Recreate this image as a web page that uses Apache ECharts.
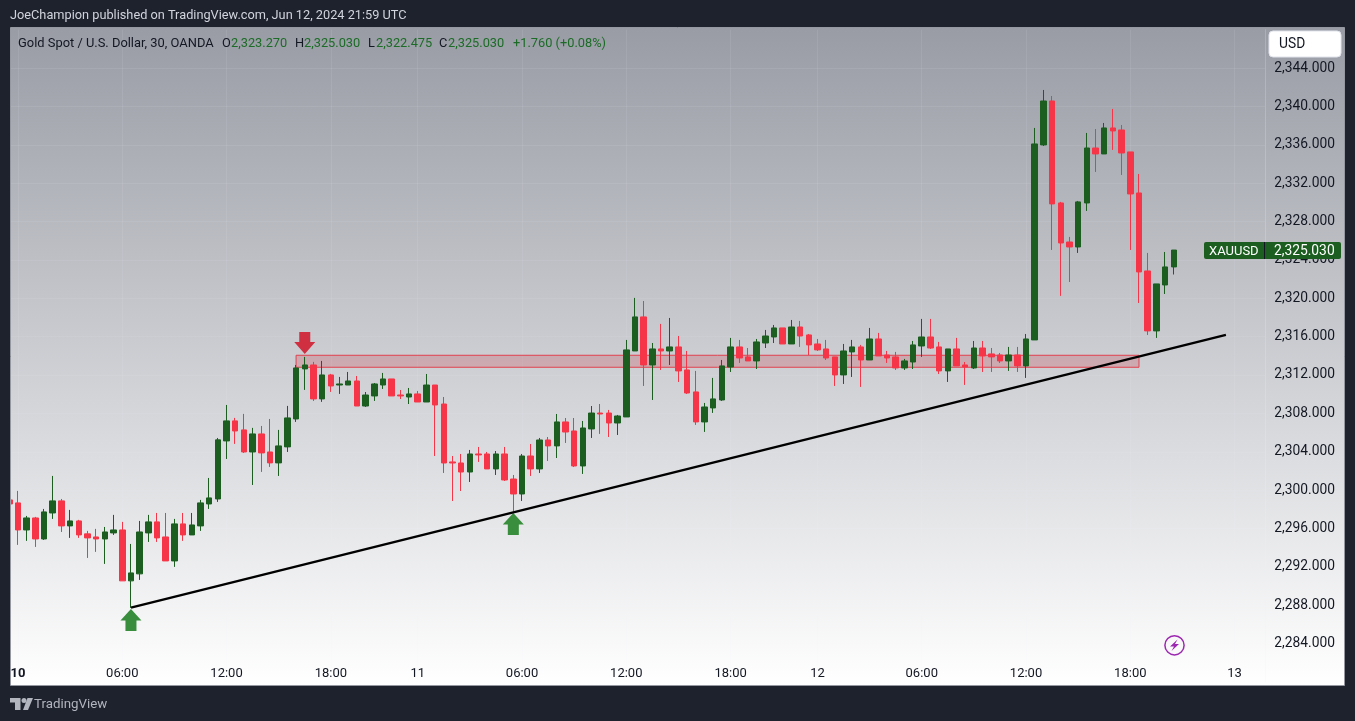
<!DOCTYPE html>
<html>
<head>
<meta charset="utf-8">
<title>XAUUSD</title>
<style>
  html, body { margin: 0; padding: 0; background: #1e222d; }
  #chart { width: 1355px; height: 721px; }
</style>
<script src="https://cdn.jsdelivr.net/npm/echarts@6/dist/echarts.min.js"></script>
</head>
<body>
<div id="chart"></div>
<script>
// candle values, one row = 10 bars
const open = [
  2298.98, 2298.67, 2295.85, 2297.10, 2294.91, 2297.62, 2298.88, 2296.27, 2296.79, 2295.44,
  2295.12, 2294.91, 2295.54, 2295.85, 2290.54, 2291.27, 2295.54, 2296.69, 2295.12, 2292.62,
  2296.48, 2295.33, 2296.27, 2298.56, 2299.08, 2305.13, 2307.22, 2306.28, 2303.98, 2305.86,
  2303.98, 2302.84, 2304.51, 2307.42, 2312.64, 2313.05, 2309.51, 2312.01, 2310.96, 2310.96,
  2311.38, 2308.77, 2309.82, 2310.96, 2311.59, 2309.92, 2309.71, 2310.03, 2309.19, 2310.96,
  2308.98, 2302.94, 2302.83, 2301.89, 2303.77, 2303.77, 2302.21, 2303.77, 2301.16, 2299.60,
  2303.56, 2302.21, 2305.23, 2304.61, 2307.11, 2306.17, 2302.52, 2306.38, 2308.04, 2308.04,
  2307.00, 2307.63, 2314.51, 2318.06, 2313.05, 2314.72, 2314.51, 2314.93, 2312.53, 2310.24,
  2307.11, 2308.57, 2309.40, 2312.84, 2314.93, 2313.89, 2313.47, 2315.34, 2315.97, 2316.91,
  2315.24, 2317.01, 2316.18, 2315.24, 2314.72, 2313.89, 2312.01, 2314.41, 2314.93, 2313.57,
  2315.76, 2314.09, 2313.89, 2312.74, 2313.36, 2315.03, 2315.97, 2314.93, 2312.43, 2314.72,
  2313.05, 2312.74, 2314.82, 2314.20, 2314.09, 2313.47, 2314.09, 2312.95, 2315.66, 2335.99,
  2340.57, 2329.94, 2325.87, 2325.35, 2329.94, 2335.67, 2335.05, 2337.76, 2337.55, 2335.26,
  2330.98, 2322.85, 2316.60, 2321.39, 2323.27
];
const close = [
  2298.56, 2295.85, 2297.10, 2294.91, 2297.73, 2298.88, 2296.27, 2296.79, 2295.33, 2295.02,
  2294.91, 2295.64, 2295.85, 2290.54, 2291.37, 2295.64, 2296.69, 2295.02, 2292.62, 2296.48,
  2295.33, 2296.37, 2298.67, 2299.19, 2305.24, 2307.22, 2306.17, 2303.98, 2305.86, 2303.88,
  2302.84, 2304.61, 2307.53, 2312.74, 2313.05, 2309.51, 2312.01, 2310.86, 2311.07, 2311.38,
  2308.77, 2309.92, 2311.07, 2311.59, 2309.82, 2309.82, 2310.03, 2309.19, 2310.96, 2308.88,
  2302.83, 2302.83, 2301.89, 2303.77, 2303.67, 2302.21, 2303.77, 2301.06, 2299.60, 2303.56,
  2302.21, 2305.23, 2304.61, 2307.11, 2306.06, 2302.52, 2306.48, 2308.04, 2307.94, 2307.00,
  2307.73, 2314.62, 2318.06, 2313.05, 2314.72, 2314.51, 2314.93, 2312.43, 2310.13, 2307.11,
  2308.67, 2309.51, 2312.95, 2314.93, 2313.78, 2313.47, 2315.45, 2316.07, 2316.91, 2315.24,
  2317.01, 2316.07, 2315.14, 2314.62, 2313.78, 2312.01, 2314.51, 2314.93, 2313.57, 2315.76,
  2313.99, 2313.78, 2312.74, 2313.47, 2315.14, 2315.97, 2314.82, 2312.43, 2314.72, 2312.95,
  2312.84, 2314.82, 2313.99, 2313.89, 2313.47, 2314.09, 2312.95, 2315.76, 2336.09, 2340.57,
  2329.84, 2325.77, 2325.35, 2330.05, 2335.67, 2335.05, 2337.76, 2337.45, 2335.15, 2330.88,
  2322.75, 2316.60, 2321.50, 2323.27, 2325.03
];
const low = [
  2298.37, 2294.29, 2294.71, 2294.08, 2294.81, 2297.00, 2295.64, 2295.02, 2295.02, 2292.93,
  2293.56, 2292.31, 2295.33, 2290.54, 2287.72, 2290.64, 2294.60, 2294.60, 2292.62, 2292.00,
  2294.71, 2295.33, 2295.75, 2298.04, 2298.77, 2303.25, 2304.82, 2303.88, 2300.54, 2301.90,
  2302.42, 2301.48, 2303.98, 2307.11, 2310.45, 2309.30, 2309.20, 2310.24, 2310.03, 2310.96,
  2308.77, 2308.67, 2309.30, 2310.55, 2309.82, 2309.50, 2308.98, 2309.19, 2309.19, 2303.56,
  2301.79, 2298.87, 2299.91, 2300.85, 2302.94, 2302.21, 2301.58, 2300.96, 2297.76, 2298.87,
  2301.48, 2301.79, 2303.04, 2303.35, 2304.92, 2302.42, 2301.69, 2305.44, 2305.86, 2305.54,
  2305.75, 2307.63, 2314.51, 2310.86, 2309.40, 2312.53, 2313.05, 2311.28, 2310.03, 2306.80,
  2306.07, 2308.05, 2309.30, 2312.32, 2313.26, 2313.47, 2312.63, 2314.82, 2315.34, 2315.24,
  2315.24, 2314.93, 2314.09, 2314.51, 2313.57, 2310.86, 2311.07, 2311.80, 2310.76, 2313.57,
  2313.99, 2313.26, 2312.53, 2312.53, 2312.63, 2313.89, 2314.72, 2312.11, 2311.28, 2312.95,
  2310.97, 2312.63, 2312.32, 2312.32, 2313.26, 2312.43, 2312.32, 2311.70, 2315.66, 2335.88,
  2325.04, 2320.25, 2321.70, 2324.73, 2329.11, 2333.17, 2335.05, 2335.47, 2332.86, 2325.04,
  2319.51, 2316.18, 2315.87, 2320.45, 2322.48
];
const high = [
  2299.37, 2299.92, 2297.31, 2297.21, 2298.04, 2301.48, 2299.08, 2297.94, 2296.90, 2295.75,
  2295.96, 2296.16, 2297.42, 2296.69, 2294.39, 2296.79, 2297.42, 2297.62, 2297.62, 2297.00,
  2297.62, 2297.62, 2298.98, 2301.27, 2305.44, 2308.88, 2307.53, 2307.95, 2306.49, 2306.69,
  2307.42, 2306.28, 2308.78, 2313.05, 2313.89, 2313.37, 2313.47, 2312.12, 2311.80, 2312.32,
  2311.90, 2310.23, 2311.17, 2312.22, 2311.59, 2310.44, 2310.65, 2310.34, 2312.11, 2310.96,
  2309.71, 2303.56, 2303.77, 2304.19, 2304.50, 2303.98, 2304.08, 2304.50, 2301.58, 2303.77,
  2304.81, 2305.44, 2305.54, 2307.94, 2307.52, 2307.52, 2307.21, 2308.77, 2308.98, 2308.36,
  2307.84, 2315.66, 2320.04, 2319.72, 2315.34, 2317.33, 2317.95, 2316.07, 2314.51, 2312.43,
  2309.09, 2311.70, 2313.57, 2315.87, 2315.66, 2314.82, 2315.76, 2316.70, 2317.22, 2316.91,
  2317.74, 2317.64, 2316.28, 2315.76, 2315.66, 2313.89, 2315.24, 2315.66, 2315.14, 2316.91,
  2316.39, 2314.51, 2314.41, 2313.68, 2315.55, 2317.85, 2317.85, 2315.45, 2314.72, 2315.87,
  2313.36, 2315.55, 2315.55, 2314.82, 2314.30, 2314.93, 2314.93, 2316.28, 2337.76, 2341.72,
  2341.09, 2330.05, 2326.40, 2330.15, 2337.24, 2337.65, 2338.28, 2339.74, 2338.07, 2335.26,
  2332.96, 2324.73, 2321.50, 2324.83, 2325.03
];

// time axis
const barCount = 145;
const tickBars = [1, 13, 25, 37, 47, 59, 71, 83, 93, 105, 117, 129, 141];
const tickLabels = ['10', '06:00', '12:00', '18:00', '11', '06:00', '12:00', '18:00', '12', '06:00', '12:00', '18:00', '13'];

// drawings on the chart
const trendBars = [14, 140];
const trendValues = [2287.75, 2316.18];
const zoneBars = [33, 130];
const zoneValues = [2314.06, 2312.81];
const arrowBars = [34, 14, 58];
const arrowValues = [2315.35, 2286.46, 2296.47];

const headerText = 'JoeChampion published on TradingView.com, Jun 12, 2024 21:59 UTC';
const symbolText = 'Gold Spot / U.S. Dollar, 30, OANDA';
const ohlcLetters = ['O', 'H', 'L', 'C'];
const ohlcValues = ['2,323.270', '2,325.030', '2,322.475', '2,325.030'];
const changeText = '+1.760 (+0.08%)';
const lastPriceText = '2,325.030';

const GREEN = '#1b5e20';
const RED = '#f63648';
const FONT = 'Roboto, "Noto Sans", sans-serif';
const GRID_LINE = 'rgba(240,243,250,0.09)';

const categories = new Array(barCount).fill('');
tickBars.forEach((b, i) => { categories[b] = tickLabels[i]; });
const isTick = (idx) => tickBars.includes(idx);

const candles = open.map((o, i) => [o, close[i], low[i], high[i]]);

const ARROW_UP = 'path://M10.5 0L21 11.5L16 11.5L16 22L5 22L5 11.5L0 11.5Z';
const ARROW_DOWN = 'path://M5 0L16 0L16 10L21 10L10.5 22L0 10L5 10Z';

function txt(x, y, text, fill, size, extra) {
  return {
    type: 'text', x: x, y: y, z: 60, silent: true,
    style: Object.assign({ text: text, fill: fill, font: (size || 12) + 'px ' + FONT, textVerticalAlign: 'middle' }, extra || {})
  };
}

const legendX = { O: [222, 231], H: [295, 304], L: [368, 376], C: [439, 448] };
const legendTexts = [];
ohlcLetters.forEach((letter, i) => {
  legendTexts.push(txt(legendX[letter][0], 44, letter, '#131722', 12.8));
  legendTexts.push(txt(legendX[letter][1], 44, ohlcValues[i], '#1c6b26', 12.8));
});

const chart = echarts.init(document.getElementById('chart'));
chart.setOption({
  animation: false,
  backgroundColor: '#1e222d',
  grid: { left: 4.955, right: 90, top: 29.73, height: 652.24 },
  xAxis: {
    type: 'category',
    data: categories,
    offset: -17,
    axisLine: { show: false },
    axisTick: { show: false },
    axisLabel: {
      interval: (idx) => isTick(idx),
      margin: 2,
      color: '#131722',
      fontFamily: FONT,
      fontSize: 13,
      hideOverlap: false,
      formatter: (v, idx) => (idx === 1 ? '{day|' + v + '}' : v),
      rich: { day: { fontWeight: 'bold', fontSize: 13, color: '#131722', fontFamily: FONT } }
    },
    splitLine: {
      show: true,
      alignWithLabel: true,
      interval: (idx) => isTick(idx),
      lineStyle: { color: GRID_LINE, width: 1 }
    }
  },
  yAxis: {
    type: 'value',
    position: 'right',
    min: 2280,
    max: 2348,
    interval: 4,
    axisLine: { show: true, lineStyle: { color: 'rgba(240,243,250,0.22)' } },
    axisTick: { show: false },
    axisLabel: {
      margin: 70,
      align: 'right',
      color: '#131722',
      fontFamily: FONT,
      fontSize: 13.8,
      padding: [0, 0, 3, 0],
      formatter: (v) => (v === 2280 || v === 2348) ? '' : v.toLocaleString('en-US', { minimumFractionDigits: 3 })
    },
    splitLine: {
      show: true,
      showMinLine: false,
      showMaxLine: false,
      lineStyle: { color: GRID_LINE, width: 1 }
    }
  },
  series: [
    {
      type: 'candlestick',
      data: candles,
      barWidth: 6,
      silent: true,
      z: 3,
      itemStyle: { color: GREEN, color0: RED, borderColor: GREEN, borderColor0: RED, borderWidth: 1 },
      markArea: {
        silent: true,
        z: 1,
        itemStyle: { color: 'rgba(200,40,55,0.22)', borderColor: '#e2404e', borderWidth: 1 },
        data: [[
          { coord: [zoneBars[0], zoneValues[0]] },
          { coord: [zoneBars[1], zoneValues[1]] }
        ]]
      },
      markPoint: {
        silent: true,
        label: { show: false },
        data: [
          { coord: [arrowBars[0], arrowValues[0]], symbol: ARROW_DOWN, symbolSize: [21, 22], itemStyle: { color: '#cf2f40' } },
          { coord: [arrowBars[1], arrowValues[1]], symbol: ARROW_UP, symbolSize: [21, 22], itemStyle: { color: '#388e3c' } },
          { coord: [arrowBars[2], arrowValues[2]], symbol: ARROW_UP, symbolSize: [21, 22], itemStyle: { color: '#388e3c' } }
        ]
      }
    },
    {
      type: 'line',
      data: trendBars.map((b, i) => [b, trendValues[i]]),
      symbol: 'none',
      silent: true,
      z: 6,
      lineStyle: { color: '#000000', width: 2.4 }
    }
  ],
  graphic: [
    // panel with the grey to white wash
    {
      type: 'rect', z: -10, silent: true,
      shape: { x: 10.5, y: 27.5, width: 1334, height: 658 },
      style: {
        fill: new echarts.graphic.LinearGradient(0, 0, 0, 1, [
          { offset: 0, color: 'rgb(153,156,165)' },
          { offset: 1, color: '#ffffff' }
        ])
      }
    },
    // covers the cut off first bar
    { type: 'rect', z: 50, silent: true, shape: { x: 0, y: 27, width: 10.5, height: 660 }, style: { fill: '#1e222d' } },
    { type: 'rect', z: 51, silent: true, shape: { x: 10.5, y: 27.5, width: 1334, height: 658 }, style: { fill: 'none', stroke: '#9598a1', lineWidth: 1 } },

    txt(10, 15.5, headerText, '#d1d4dc', 12.75),
    txt(18, 43.5, symbolText, '#131722', 12.9)
  ].concat(legendTexts).concat([
    txt(513, 43.5, changeText, '#1c6b26', 12.8),

    // currency button
    { type: 'rect', z: 55, silent: true, shape: { x: 1269, y: 31, width: 72, height: 26, r: 4 }, style: { fill: '#ffffff', stroke: '#e0e3eb', lineWidth: 1 } },
    txt(1279, 44.5, 'USD', '#131722', 13.8),

    // last price tag
    { type: 'rect', z: 55, silent: true, shape: { x: 1204, y: 242, width: 137, height: 17, r: 2 }, style: { fill: GREEN } },
    { type: 'rect', z: 56, silent: true, shape: { x: 1264, y: 242, width: 1, height: 17 }, style: { fill: '#131722' } },
    txt(1209, 251.5, 'XAUUSD', '#ffffff', 13),
    txt(1274, 251.5, lastPriceText, '#ffffff', 13.8),

    // lightning badge
    { type: 'circle', z: 55, silent: true, shape: { cx: 1174.5, cy: 645.3, r: 9.6 }, style: { fill: 'none', stroke: '#9c27b0', lineWidth: 1.5 } },
    { type: 'polygon', z: 55, silent: true, shape: { points: [[1177.5, 639.5], [1170, 646.5], [1174, 646.5], [1171.5, 651], [1179, 644], [1175, 644]] }, style: { fill: '#9c27b0' } },

    // footer logo
    { type: 'polygon', z: 55, silent: true, shape: { points: [[10, 698], [20.5, 698], [20.5, 710], [15, 710], [15, 702.5], [10, 702.5]] }, style: { fill: '#b2b5be' } },
    { type: 'polygon', z: 55, silent: true, shape: { points: [[27.5, 698], [33, 698], [28, 710], [23, 710]] }, style: { fill: '#b2b5be' } },
    { type: 'circle', z: 55, silent: true, shape: { cx: 24, cy: 700.5, r: 2.5 }, style: { fill: '#b2b5be' } },
    txt(34, 704.5, 'TradingView', '#b2b5be', 13.3)
  ])
});
</script>
</body>
</html>
